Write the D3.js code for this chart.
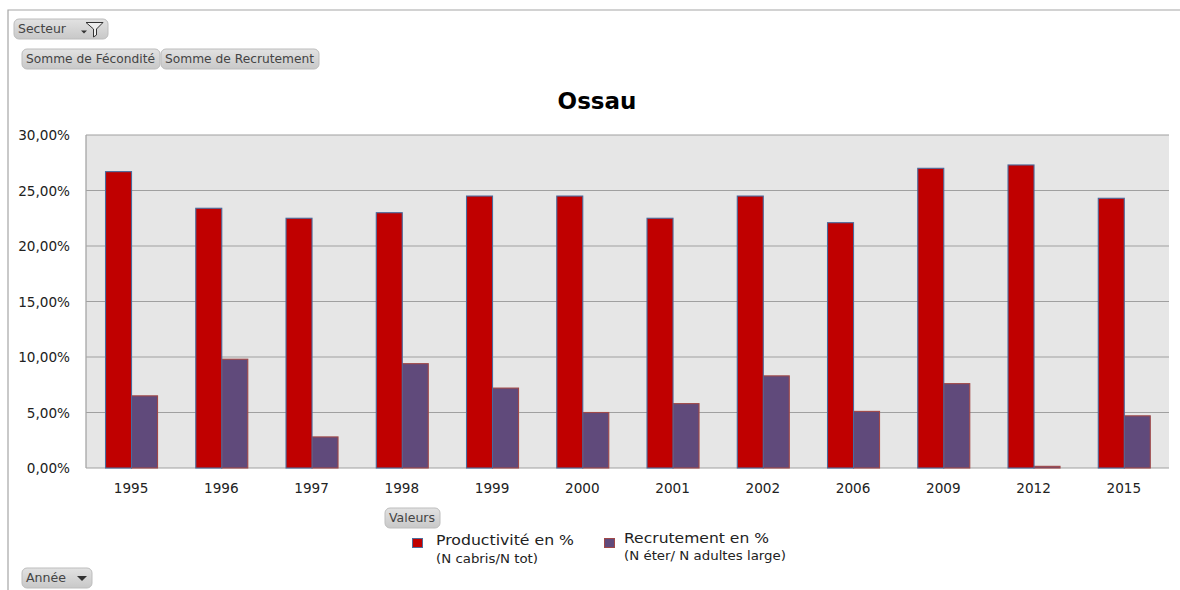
<!DOCTYPE html>
<html><head><meta charset="utf-8">
<script src="https://cdnjs.cloudflare.com/ajax/libs/d3/7.8.5/d3.min.js"></script>
<style>html,body{margin:0;padding:0;background:#fff;overflow:hidden}svg{display:block}text{font-family:"DejaVu Sans",sans-serif}</style>
</head><body><svg id="c" width="1180" height="590"></svg>
<script>
const years=["1995","1996","1997","1998","1999","2000","2001","2002","2006","2009","2012","2015"];
const productivite=[26.7,23.4,22.5,23.0,24.5,24.5,22.5,24.5,22.1,27.0,27.3,24.3];
const recrutement=[6.5,9.8,2.8,9.4,7.2,5.0,5.8,8.3,5.1,7.6,0.15,4.7];
const yTicks=[0,5,10,15,20,25,30];
const title="Ossau";
const fieldButtons=[
 {label:"Secteur",x:14,y:19,w:94,h:20},
 {label:"Somme de Fécondité",x:22,y:49,w:138,h:20},
 {label:"Somme de Recrutement",x:161,y:49,w:158,h:20},
 {label:"Valeurs",x:385,y:508,w:55,h:20},
 {label:"Année",x:22,y:568,w:70,h:20}];

const svg=d3.select("#c");
const defs=svg.append("defs");
const g=defs.append("linearGradient").attr("id","btn").attr("x1",0).attr("x2",0).attr("y1",0).attr("y2",1);
g.append("stop").attr("offset","0%").attr("stop-color","#e2e2e2");
g.append("stop").attr("offset","100%").attr("stop-color","#c8c8c8");

// outer frame
svg.append("path").attr("d","M8,590V10H1180").attr("fill","none").attr("stroke","#a6a6a6").attr("stroke-width",1.2);

const m={l:86,r:1169,t:135,b:468};
const x=d3.scaleBand().domain(years).range([m.l,m.r]);
const y=d3.scaleLinear().domain([0,30]).range([m.b,m.t]);

svg.append("rect").attr("x",m.l).attr("y",m.t).attr("width",m.r-m.l).attr("height",m.b-m.t).attr("fill","#e6e6e6");
svg.append("g").selectAll("line").data(yTicks).join("line")
 .attr("x1",m.l).attr("x2",m.r).attr("y1",d=>y(d)).attr("y2",d=>y(d))
 .attr("stroke","#a0a0a0").attr("stroke-width",1.2);
svg.append("line").attr("x1",m.l).attr("x2",m.l).attr("y1",m.t).attr("y2",m.b).attr("stroke","#a6a6a6").attr("stroke-width",1.3);

const bw=26;
function bars(vals,dx,fill,stroke){
 svg.append("g").selectAll("rect").data(vals).join("rect")
  .attr("x",(d,i)=>x(years[i])+x.bandwidth()/2+dx)
  .attr("y",d=>y(d)).attr("width",bw).attr("height",d=>y(0)-y(d))
  .attr("fill",fill).attr("stroke",stroke).attr("stroke-width",1.1);
}
bars(recrutement,0.4,"#604a7b","#a04848");
bars(productivite,-bw+0.4,"#c00000","#4a6a9c");

svg.append("g").selectAll("text").data(yTicks).join("text")
 .attr("x",70).attr("y",d=>y(d)+5).attr("text-anchor","end").attr("font-size",13.6).attr("fill","#222")
 .text(d=>d3.format(".2f")(d).replace(".",",")+"%");
svg.append("g").selectAll("text").data(years).join("text")
 .attr("x",d=>x(d)+x.bandwidth()/2).attr("y",493).attr("text-anchor","middle").attr("font-size",13.6).attr("fill","#222").text(d=>d);

svg.append("text").attr("x",597).attr("y",109).attr("text-anchor","middle")
 .attr("font-size",23).attr("font-weight","bold").attr("fill","#000").text(title);

// field buttons
const b=svg.append("g").selectAll("g").data(fieldButtons).join("g");
b.append("rect").attr("x",d=>d.x).attr("y",d=>d.y).attr("width",d=>d.w).attr("height",d=>d.h).attr("rx",5)
 .attr("fill","url(#btn)").attr("stroke","#bdbdbd");
b.append("text").attr("x",d=>d.x+4).attr("y",d=>d.y+14).attr("font-size",12.3).attr("fill","#444")
 .attr("textLength",d=>d.label==="Secteur"?48:d.label==="Somme de Fécondité"?129:d.label==="Somme de Recrutement"?149:d.label==="Valeurs"?46:40)
 .attr("lengthAdjust","spacingAndGlyphs").text(d=>d.label);

// filter + dropdown glyphs
svg.append("path").attr("d","M81,30.5h6l-3,3z").attr("fill","#333");
svg.append("path").attr("d","M86,22.5h17l-6.5,6.5v6l-3,2v-8z").attr("fill","#eee").attr("stroke","#333").attr("stroke-width",1);
svg.append("path").attr("d","M77,576h10l-5,5z").attr("fill","#333");

// legend
svg.append("rect").attr("x",412.5).attr("y",538.5).attr("width",10).attr("height",9).attr("fill","#c00000").attr("stroke","#4f6d9a");
svg.append("rect").attr("x",604.5).attr("y",538.5).attr("width",10).attr("height",9).attr("fill","#604a7b").attr("stroke","#a04848");
const leg=[
 {t:"Productivité en %",x:436,y:545,s:14.5,w:138},
 {t:"(N cabris/N tot)",x:436,y:563,s:11.5,w:102},
 {t:"Recrutement en %",x:624,y:543,s:14.5,w:145},
 {t:"(N éter/ N adultes large)",x:624,y:560,s:11.5,w:162}];
svg.append("g").selectAll("text").data(leg).join("text")
 .attr("x",d=>d.x).attr("y",d=>d.y).attr("font-size",d=>d.s).attr("fill","#222")
 .attr("textLength",d=>d.w).attr("lengthAdjust","spacingAndGlyphs").text(d=>d.t);
</script></body></html>
